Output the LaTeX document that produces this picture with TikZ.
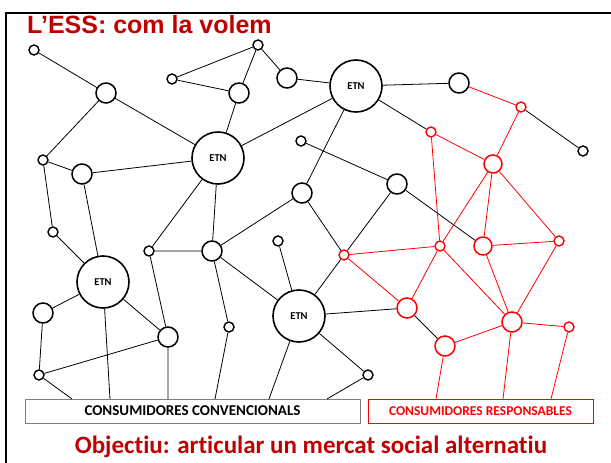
\documentclass[tikz,border=0pt]{standalone}
\usepackage{fontspec}
\setmainfont{Carlito}[Ligatures=NoCommon]
\newfontfamily\headfont{Liberation Sans}
\definecolor{titlered}{HTML}{C00000}
\definecolor{boxgray}{HTML}{7F7F7F}
\tikzset{
    hub/.style={draw, circle, line width=1.6pt, minimum size=52pt, inner sep=0pt, font=\bfseries\fontsize{10.5}{10.5}\selectfont},
    nd/.style={draw, circle, line width=1.5pt, minimum size=20pt, inner sep=0pt},
    sm/.style={draw, circle, line width=1.4pt, minimum size=10pt, inner sep=0pt},
    link/.style={line width=0.8pt},
    rlink/.style={line width=0.8pt, red},
    group/.style={draw, rectangle, line width=0.8pt, minimum height=24pt, inner sep=0pt, font=\bfseries}
}

\begin{document}
\begin{tikzpicture}[x=1pt, y=-1pt]
    \useasboundingbox (0,0) rectangle (611,463);
    \draw[line width=2.5pt] (6,463) -- (6,13) -- (611,13);

    \node[anchor=base west, inner sep=0pt, text=titlered, font=\headfont\bfseries\fontsize{25}{25}\selectfont] (title) at (27,33) {L’ESS: com la volem};

    % black network
    \node[sm] (n1) at (34,50) {};
    \node[nd] (n2) at (106,93) {};
    \node[sm] (n3) at (172,79) {};
    \node[sm] (n4) at (258,45) {};
    \node[nd] (n5) at (239,93) {};
    \node[nd] (n6) at (287,78) {};
    \node[hub] (e1) at (218,158) {ETN};
    \node[hub] (e2) at (356,86) {ETN};
    \node[nd] (n9) at (459,83) {};
    \node[sm] (s1) at (301,141) {};
    \node[sm] (n7) at (43,160) {};
    \node[nd] (n8) at (82,174) {};
    \node[nd] (n12) at (302,193) {};
    \node[nd] (n11) at (397,184) {};
    \node[sm] (n10) at (583,151) {};
    \node[sm] (n16) at (53,232) {};
    \node[sm] (n13) at (149,251) {};
    \node[nd] (n14) at (212,251) {};
    \node[sm] (n15) at (278,241) {};
    \node[hub] (e3) at (103,282) {ETN};
    \node[nd] (n17) at (43,313) {};
    \node[nd] (n19) at (168,337) {};
    \node[sm] (n20) at (229,327) {};
    \node[hub] (e4) at (299,316) {ETN};
    \node[sm] (n18) at (39,375) {};
    \node[sm] (n21) at (368,375) {};

    % red network
    \node[sm, red] (r1) at (521,107) {};
    \node[sm, red] (r2) at (431,132) {};
    \node[nd, red, minimum size=18pt] (r3) at (493,164) {};
    \node[sm, red] (r4) at (344,255) {};
    \node[sm, red] (r5) at (440,246) {};
    \node[nd, red, minimum size=18pt] (r6) at (483,246) {};
    \node[sm, red] (r7) at (559,241) {};
    \node[nd, red] (r8) at (407,308) {};
    \node[nd, red] (r9) at (512,322) {};
    \node[sm, red] (r10) at (569,327) {};
    \node[nd, red] (r11) at (445,346) {};

    % consumers
    \node[group, draw=boxgray, minimum width=335pt, font=\bfseries\fontsize{15}{15}\selectfont] (conv) at (192.5,411) {CONSUMIDORES CONVENCIONALS};
    \node[group, draw=red, text=red, minimum width=225pt, font=\bfseries\fontsize{13.5}{13.5}\selectfont] (resp) at (480.5,411) {CONSUMIDORES RESPONSABLES};
    \coordinate (f1) at (72,399);
    \coordinate (f2) at (110,399);
    \coordinate (f3) at (168,399);
    \coordinate (f4) at (215,399);
    \coordinate (f5) at (269,399);
    \coordinate (f6) at (327,399);
    \coordinate (f7) at (436,399);
    \coordinate (f8) at (503,399);
    \coordinate (f9) at (551,399);

    \draw[link] (n1) -- (n2) -- (e1) (n2) -- (n7) -- (n8) -- (e1)
        (n3) -- (n4) -- (n5) -- (n3) (n4) -- (n6) -- (e2) (n5) -- (e1) -- (e2) -- (n9)
        (e2) -- (r2) (e2) -- (n12) -- (r4) (n7) -- (n16) -- (e3) (n8) -- (e3)
        (e3) -- (n17) -- (n18) -- (n19) -- (e3) (e1) -- (n13) -- (n14) -- (e1)
        (n13) -- (n19) (n14) -- (n12) (n14) -- (e4) (n14) -- (n20) (n15) -- (e4)
        (s1) -- (n11) -- (r4) -- (e4) (n11) -- (r6) (e4) -- (r8) -- (r11) (e4) -- (n21)
        (r1) -- (n10);
    \draw[link] (n18) -- (f1) (e3) -- (f2) (n19) -- (f3) (n20) -- (f4) (e4) -- (f5) (n21) -- (f6);

    \draw[rlink] (n9) -- (r1) -- (r3) -- (r2) -- (r5) -- (r3) (r3) -- (r6) -- (r7) -- (r3)
        (r6) -- (r9) -- (r7) (r4) -- (r5) -- (r8) -- (r4) (r5) -- (r9) -- (r11) (r9) -- (r10);
    \draw[rlink] (r11) -- (f7) (r9) -- (f8) (r10) -- (f9);

    \node[anchor=base, inner sep=0pt, text=titlered, font=\bfseries\fontsize{25}{25}\selectfont] (goal) at (311,453) {Objectiu: articular un mercat social alternatiu};
\end{tikzpicture}
\end{document}
